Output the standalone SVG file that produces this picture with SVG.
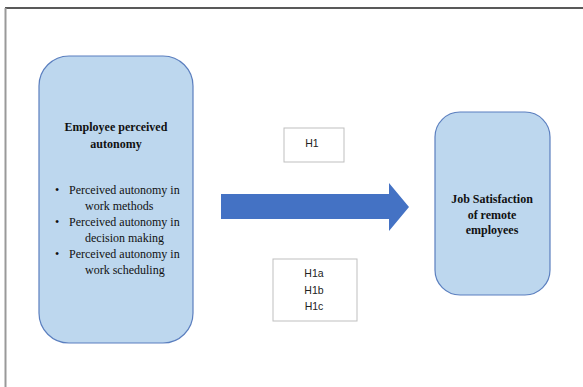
<svg xmlns="http://www.w3.org/2000/svg" width="583" height="387" viewBox="0 0 583 387">
<style>
.node{fill:#BDD7EE;stroke:#5B7FBF;stroke-width:1.2}
.lbl{fill:#fff;stroke:#BFBFBF;stroke-width:1}
.t{font-family:"Liberation Serif",serif;font-size:12px;fill:#111}
.b{font-weight:bold;text-anchor:middle}
.h{font-family:"Liberation Sans",Arial,sans-serif;font-size:10.5px;fill:#222;text-anchor:middle}
</style>
<rect width="583" height="387" fill="#fff"/>
<g id="frame">
<line x1="5" y1="8" x2="583" y2="8" stroke="#222" stroke-width="1.5"/>
<line x1="5.5" y1="8" x2="5.5" y2="387" stroke="#999" stroke-width="2"/>
</g>
<g id="autonomy">
<rect class="node" x="39" y="56" width="154" height="287" rx="30" ry="30"/>
<text class="t b" x="116" y="131">Employee perceived</text>
<text class="t b" x="116" y="148">autonomy</text>
<text class="t" x="55" y="194">•</text>
<text class="t" x="69" y="194">Perceived autonomy in</text>
<text class="t" x="85" y="210">work methods</text>
<text class="t" x="55" y="226">•</text>
<text class="t" x="69" y="226">Perceived autonomy in</text>
<text class="t" x="85" y="242">decision making</text>
<text class="t" x="55" y="258">•</text>
<text class="t" x="69" y="258">Perceived autonomy in</text>
<text class="t" x="85" y="274">work scheduling</text>
</g>
<g id="satisfaction">
<rect class="node" x="435" y="112" width="115" height="183" rx="25" ry="25"/>
<text class="t b" x="492" y="203">Job Satisfaction</text>
<text class="t b" x="492" y="219">of remote</text>
<text class="t b" x="492" y="234">employees</text>
</g>
<g id="connectors">
<polygon points="221,194 389,194 389,183 409,207 389,231 389,219 221,219" fill="#4472C4"/>
</g>
<g id="h1">
<rect class="lbl" x="284" y="128" width="60" height="34"/>
<text class="h" x="312" y="147">H1</text>
</g>
<g id="h1abc">
<rect class="lbl" x="273" y="259" width="84" height="62"/>
<text class="h" x="314" y="277">H1a</text>
<text class="h" x="314" y="294">H1b</text>
<text class="h" x="314" y="310">H1c</text>
</g>
</svg>
